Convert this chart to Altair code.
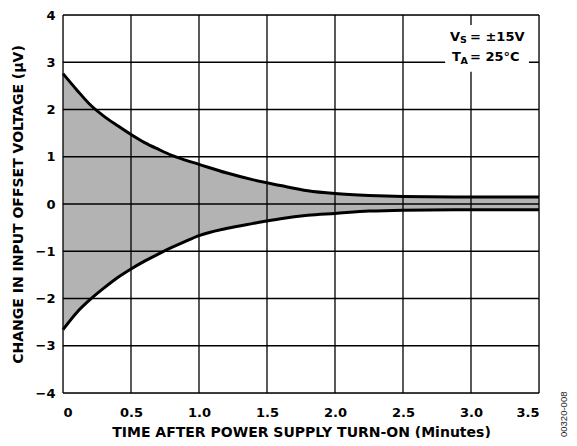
import altair as alt
import pandas as pd

# Data
time_min = [0, 0.1, 0.2, 0.3, 0.4, 0.5, 0.6, 0.7, 0.8, 0.9, 1.0, 1.2, 1.4, 1.6, 1.8, 2.0, 2.25, 2.5, 3.0, 3.5]
upper_uv = [2.76, 2.42, 2.10, 1.86, 1.66, 1.47, 1.30, 1.16, 1.03, 0.93, 0.84, 0.66, 0.51, 0.39, 0.28, 0.22, 0.18, 0.16, 0.15, 0.15]
lower_uv = [-2.66, -2.30, -2.02, -1.78, -1.56, -1.375, -1.21, -1.06, -0.92, -0.79, -0.67, -0.52, -0.41, -0.31, -0.24, -0.20, -0.15, -0.13, -0.12, -0.12]

x_ticks = [0, 0.5, 1.0, 1.5, 2.0, 2.5, 3.0, 3.5]
y_ticks = [-4, -3, -2, -1, 0, 1, 2, 3, 4]

x_title = "TIME AFTER POWER SUPPLY TURN-ON (Minutes)"
y_title = "CHANGE IN INPUT OFFSET VOLTAGE (µV)"

df = pd.DataFrame({"t": time_min, "up": upper_uv, "lo": lower_uv})
xgrid = pd.DataFrame({"t": x_ticks})
ygrid = pd.DataFrame({"v": y_ticks})

FONT = "DejaVu Sans"
xs = alt.Scale(domain=[0, 3.5], nice=False, zero=False)
ys = alt.Scale(domain=[-4, 4], nice=False)

xaxis = alt.Axis(values=x_ticks, grid=False, domain=False, ticks=False, labelPadding=13,
                 labelExpr="datum.value == 0 ? '0' : format(datum.value, '.1f')",
                 labelFont=FONT, labelFontSize=13, labelFontWeight="bold", labelColor="black",
                 title=x_title, titleFont=FONT, titleFontSize=14, titleFontWeight="bold",
                 titleColor="black", titlePadding=6)
yaxis = alt.Axis(values=y_ticks, grid=False, domain=False, ticks=False, labelPadding=8,
                 format="d", labelFont=FONT, labelFontSize=13, labelFontWeight="bold",
                 labelColor="black", title=y_title, titleFont=FONT, titleFontSize=14,
                 titleFontWeight="bold", titleColor="black", titleX=-38)

band = alt.Chart(df).mark_area(color="#b3b3b3", interpolate="monotone").encode(
    x=alt.X("t:Q", scale=xs, axis=xaxis),
    y=alt.Y("up:Q", scale=ys, axis=yaxis),
    y2="lo:Q",
)

vrules = alt.Chart(xgrid).mark_rule(color="black", strokeWidth=1.3).encode(x=alt.X("t:Q", scale=xs))
hrules = alt.Chart(ygrid).mark_rule(color="black", strokeWidth=1.3).encode(y=alt.Y("v:Q", scale=ys))

up_line = alt.Chart(df).mark_line(color="black", strokeWidth=3, interpolate="monotone").encode(
    x=alt.X("t:Q", scale=xs), y=alt.Y("up:Q", scale=ys))
lo_line = alt.Chart(df).mark_line(color="black", strokeWidth=3, interpolate="monotone").encode(
    x=alt.X("t:Q", scale=xs), y=alt.Y("lo:Q", scale=ys))

# annotation box
box_df = pd.DataFrame({"x1": [2.81], "x2": [3.426], "y1": [2.80], "y2": [3.79]})
box = alt.Chart(box_df).mark_rect(color="white").encode(
    x=alt.X("x1:Q", scale=xs), x2="x2:Q", y=alt.Y("y1:Q", scale=ys), y2="y2:Q")

ann = pd.DataFrame({"x": [2.846], "y1": [3.46], "y2": [3.03]})
def txt(text, ycol, size, dx, dy=0):
    return alt.Chart(ann).mark_text(text=text, align="left", baseline="alphabetic", font=FONT,
                                    fontSize=size, fontWeight="bold", color="black",
                                    dx=dx, dy=dy).encode(
        x=alt.X("x:Q", scale=xs), y=alt.Y(f"{ycol}:Q", scale=ys))

ann_layers = [
    txt("V", "y1", 13, 0),
    txt("S", "y1", 9.5, 10, 2),
    txt("= ±15V", "y1", 13, 20),
    txt("T", "y2", 13, 2),
    txt("A", "y2", 9.5, 10.5, 3),
    txt("= 25°C", "y2", 13, 20),
]

code_df = pd.DataFrame({"x": [3.684], "y": [-4.45]})
code = alt.Chart(code_df).mark_text(text="00320-008", angle=270, font="Liberation Sans",
                                    fontSize=9.5, color="#222222", align="center",
                                    baseline="middle").encode(
    x=alt.X("x:Q", scale=xs), y=alt.Y("y:Q", scale=ys))

chart = alt.layer(band, vrules, hrules, up_line, lo_line, box, *ann_layers, code).properties(
    width=476, height=378,
    autosize=alt.AutoSizeParams(type="none"),
    padding={"left": 55, "top": 7, "right": 30, "bottom": 45},
).configure_view(stroke="black", strokeWidth=2).configure(background="white")

chart.save("out.html", embed_options={"renderer": "svg", "actions": False})
